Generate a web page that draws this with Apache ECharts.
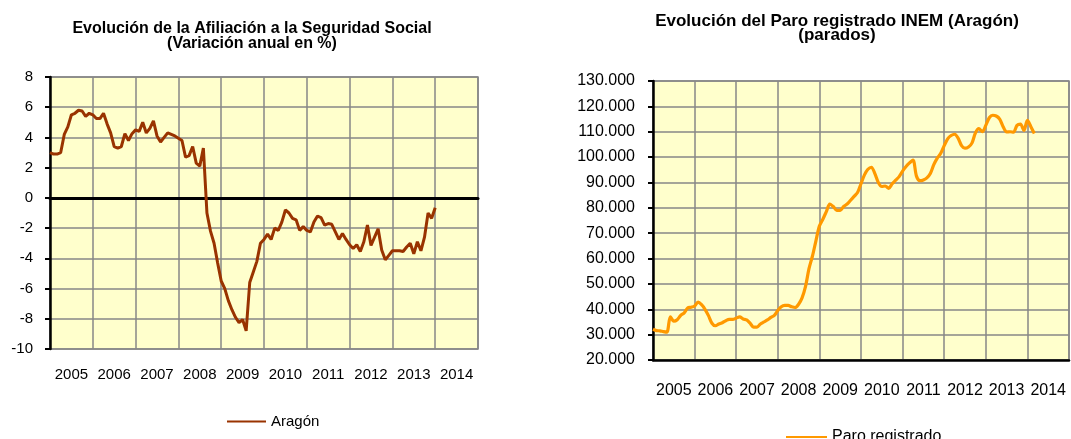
<!DOCTYPE html>
<html>
<head>
<meta charset="utf-8">
<script src="https://cdn.jsdelivr.net/npm/echarts@6/dist/echarts.min.js"></script>
<style>
html, body { margin: 0; padding: 0; background: #fff; }
#main { width: 1071px; height: 439px; }
</style>
</head>
<body>
<div id="main"></div>
<script>
// *******Chart data*******
var years = ['2005', '2006', '2007', '2008', '2009', '2010', '2011', '2012', '2013', '2014'];

// Afiliacion a la Seguridad Social, variacion anual en % (mensual desde ene-2005)
var afiliacion = [
    3.0, 2.9, 2.9, 3.0, 4.2, 4.7, 5.5, 5.6, 5.8, 5.75, 5.4, 5.6,
    5.5, 5.25, 5.25, 5.6, 4.9, 4.3, 3.4, 3.3, 3.4, 4.25, 3.8, 4.25,
    4.5, 4.4, 5.0, 4.3, 4.6, 5.1, 4.1, 3.7, 4.0, 4.3, 4.2, 4.1,
    3.95, 3.8, 2.7, 2.8, 3.4, 2.3, 2.1, 3.3, -1.0, -2.2, -3.0, -4.3,
    -5.5, -6.0, -6.8, -7.4, -7.9, -8.25, -8.05, -8.8, -5.6, -4.9, -4.2, -3.0,
    -2.75, -2.4, -2.75, -2.0, -2.15, -1.6, -0.8, -1.0, -1.35, -1.45, -2.15, -1.9,
    -2.15, -2.25, -1.6, -1.2, -1.3, -1.8, -1.7, -1.75, -2.25, -2.75, -2.35, -2.75,
    -3.1, -3.35, -3.1, -3.55, -2.9, -1.8, -3.15, -2.6, -2.05, -3.45, -4.1, -3.8,
    -3.5, -3.5, -3.5, -3.55, -3.25, -3.0, -3.7, -2.9, -3.5, -2.6, -1.0, -1.35,
    -0.65
];

// Paro registrado INEM Aragon, en miles de parados (mensual desde ene-2005)
var paro = [
    32.1, 31.6, 31.5, 31.2, 31.0, 37.0, 35.3, 35.9, 37.6, 38.6, 40.5, 40.8,
    41.3, 42.8, 41.8, 40.0, 37.5, 34.5, 33.5, 34.2, 34.7, 35.5, 36.0, 36.0,
    36.5, 37.0, 36.2, 35.8, 34.5, 33.0, 33.0, 34.2, 35.0, 35.8, 36.8, 37.6,
    39.5, 41.0, 41.5, 41.5, 41.0, 40.7, 42.0, 44.5, 49.0, 56.0, 61.0, 67.0,
    72.8, 75.5, 78.5, 81.5, 80.5, 79.0, 79.0, 80.5, 81.5, 83.0, 84.5, 86.0,
    89.5, 93.0, 95.2, 96.0, 93.5, 90.0, 88.4, 88.6, 87.7, 89.5, 90.9, 92.3,
    94.5, 96.3, 97.7, 98.8, 92.5, 90.7, 91.0, 91.8, 93.5, 97.0, 99.6, 101.5,
    104.5, 107.2, 108.5, 109.0, 107.5, 104.5, 103.5, 104.0, 105.5, 109.5, 111.2, 110.0,
    112.5, 115.5, 116.5, 116.2, 115.0, 112.0, 109.9, 110.0, 109.8, 112.5, 113.0, 110.5,
    114.5, 112.0, 109.3
];

var FONT = "Arial, 'Liberation Sans', sans-serif";
var GRID_COLOR = '#878787';
var PLOT_BG = '#FFFFCC';

// month index -> [x, y] pairs for the hidden monthly value axis
function toMonthly(values, scale) {
    var out = [];
    for (var i = 0; i < values.length; i++) {
        out.push([i, values[i] * scale]);
    }
    return out;
}

function thousands(v) {
    return (v / 1000).toFixed(0) + '.000';
}

var myChart = echarts.init(document.getElementById('main'), null, {renderer: 'canvas'});

var option = {
    animation: false,
    textStyle: {fontFamily: FONT, color: '#000'},
    title: [{
        text: 'Evolución de la Afiliación a la Seguridad Social\n(Variación anual en %)',
        left: 247, top: 16, textAlign: 'center',
        textStyle: {fontFamily: FONT, fontSize: 16, fontWeight: 'bold', color: '#000', lineHeight: 15}
    }, {
        text: 'Evolución del Paro registrado INEM (Aragón)\n(parados)',
        left: 832, top: 9, textAlign: 'center',
        textStyle: {fontFamily: FONT, fontSize: 17, fontWeight: 'bold', color: '#000', lineHeight: 14}
    }],
    legend: [{
        data: ['Aragón'],
        left: 222, top: 409,
        icon: 'rect', itemWidth: 39, itemHeight: 2,
        textStyle: {fontFamily: FONT, fontSize: 15, color: '#000'}
    }, {
        data: ['Paro registrado'],
        left: 781, top: 424,
        icon: 'rect', itemWidth: 41, itemHeight: 2,
        textStyle: {fontFamily: FONT, fontSize: 16, color: '#000'}
    }],
    grid: [{
        left: 50, top: 77, width: 428, height: 272,
        show: true, backgroundColor: PLOT_BG, borderColor: GRID_COLOR, borderWidth: 1.5
    }, {
        left: 653, top: 81, width: 416, height: 279,
        show: true, backgroundColor: PLOT_BG, borderColor: GRID_COLOR, borderWidth: 1.5
    }],
    xAxis: [
        // left chart: year labels
        {
            type: 'category', gridIndex: 0, data: years, boundaryGap: true, position: 'bottom',
            axisLine: {show: false, onZero: false}, axisTick: {show: false}, splitLine: {show: false},
            axisLabel: {interval: 0, fontSize: 15, color: '#000', margin: 18, fontFamily: FONT}
        },
        // left chart: monthly axis, its line sits on zero
        {
            type: 'value', gridIndex: 0, min: 0, max: 120, interval: 12, position: 'bottom',
            axisLine: {show: true, onZero: true, onZeroAxisIndex: 0, lineStyle: {color: '#000', width: 3}},
            axisTick: {show: false}, axisLabel: {show: false},
            splitLine: {show: true, lineStyle: {color: GRID_COLOR, width: 1.5}}
        },
        // right chart: year labels
        {
            type: 'category', gridIndex: 1, data: years, boundaryGap: true, position: 'bottom',
            axisLine: {show: true, onZero: false, lineStyle: {color: '#000', width: 2.5}},
            axisTick: {show: false}, splitLine: {show: false},
            axisLabel: {interval: 0, fontSize: 16, color: '#000', margin: 23, fontFamily: FONT}
        },
        // right chart: monthly axis
        {
            type: 'value', gridIndex: 1, min: 0, max: 120, interval: 12, position: 'bottom',
            axisLine: {show: false, onZero: false}, axisTick: {show: false}, axisLabel: {show: false},
            splitLine: {show: true, lineStyle: {color: GRID_COLOR, width: 1.5}}
        }
    ],
    yAxis: [{
        type: 'value', gridIndex: 0, min: -10, max: 8, interval: 2,
        axisLine: {show: true, onZero: false, lineStyle: {color: '#000', width: 2.5}},
        axisTick: {show: true, inside: false, length: 5, lineStyle: {color: '#000', width: 2}},
        axisLabel: {fontSize: 15, color: '#000', margin: 17, fontFamily: FONT},
        splitLine: {show: true, lineStyle: {color: GRID_COLOR, width: 1.5}}
    }, {
        type: 'value', gridIndex: 1, min: 20000, max: 130000, interval: 10000,
        axisLine: {show: true, onZero: false, lineStyle: {color: '#000', width: 2.5}},
        axisTick: {show: true, inside: false, length: 5, lineStyle: {color: '#000', width: 2}},
        axisLabel: {fontSize: 16, color: '#000', margin: 18, fontFamily: FONT, formatter: thousands},
        splitLine: {show: true, lineStyle: {color: GRID_COLOR, width: 1.5}}
    }],
    series: [{
        name: 'Aragón', type: 'line', xAxisIndex: 1, yAxisIndex: 0,
        data: toMonthly(afiliacion, 1),
        showSymbol: false, symbol: 'none',
        itemStyle: {color: '#993300'},
        lineStyle: {color: '#993300', width: 3}
    }, {
        name: 'Paro registrado', type: 'line', xAxisIndex: 3, yAxisIndex: 1,
        data: toMonthly(paro, 1000),
        showSymbol: false, symbol: 'none', smooth: 0.3,
        itemStyle: {color: '#FF9900'},
        lineStyle: {color: '#FF9900', width: 3.2}
    }]
};

myChart.setOption(option);
</script>
</body>
</html>
